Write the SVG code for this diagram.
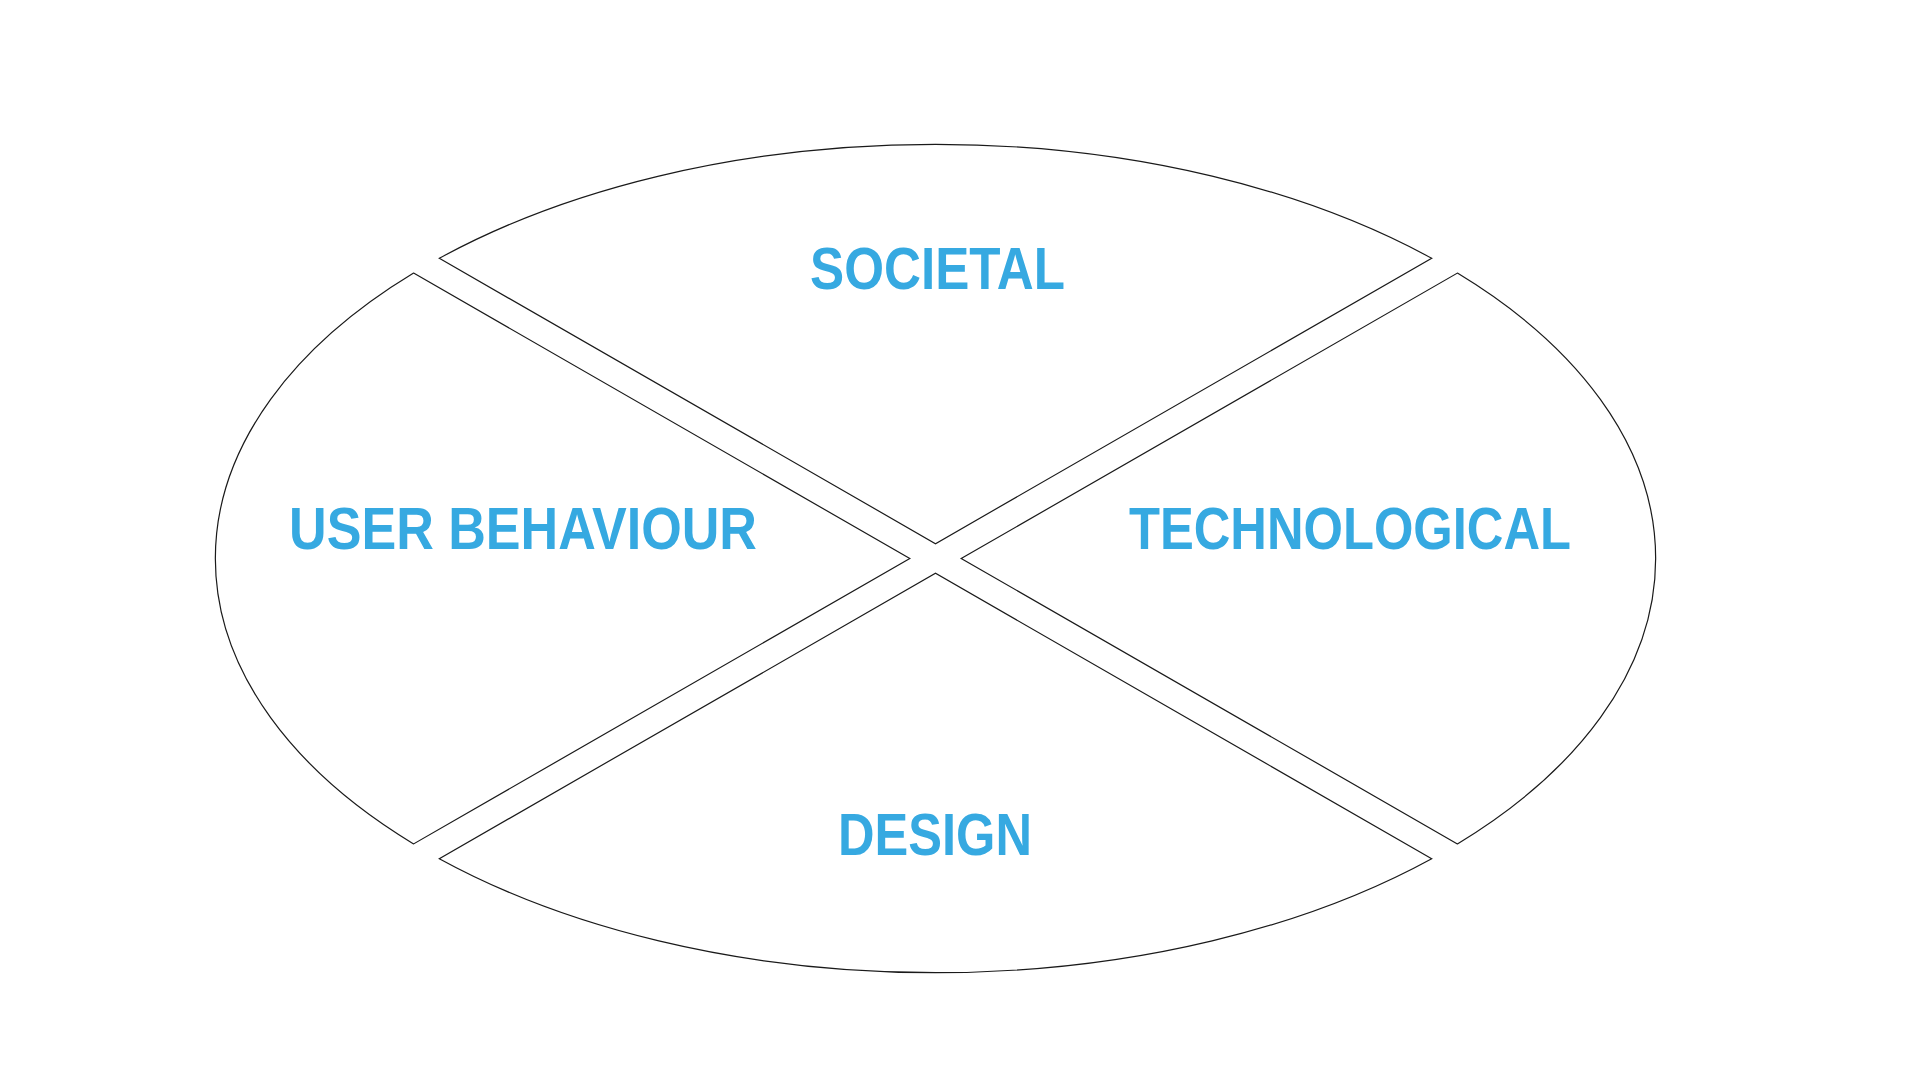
<svg xmlns="http://www.w3.org/2000/svg" width="1920" height="1080" viewBox="0 0 1920 1080">
<style>
.seg{fill:#ffffff;stroke:#1a1a1a;stroke-width:1.2;stroke-linejoin:miter}
.lbl{font-family:"Liberation Sans",Arial,sans-serif;font-weight:bold;font-size:59px;fill:#36a9e1}
</style>
<rect x="0" y="0" width="1920" height="1080" fill="#ffffff"/>
<g id="societal">
<path class="seg" d="M439.3,258.3 L935.5,543.7 L1431.7,258.3 A720.2 414.2 0 0 0 439.3,258.3 Z"/>
<text class="lbl" x="810" y="289" textLength="255" lengthAdjust="spacingAndGlyphs">SOCIETAL</text>
</g>
<g id="technological">
<path class="seg" d="M1457.4,843.9 L961.2,558.5 L1457.4,273.1 A720.2 414.2 0 0 1 1457.4,843.9 Z"/>
<text class="lbl" x="1129" y="549" textLength="442" lengthAdjust="spacingAndGlyphs">TECHNOLOGICAL</text>
</g>
<g id="design">
<path class="seg" d="M1431.7,858.7 L935.5,573.3 L439.3,858.7 A720.2 414.2 0 0 0 1431.7,858.7 Z"/>
<text class="lbl" x="838" y="855" textLength="194" lengthAdjust="spacingAndGlyphs">DESIGN</text>
</g>
<g id="user-behaviour">
<path class="seg" d="M413.6,273.1 L909.8,558.5 L413.6,843.9 A720.2 414.2 0 0 1 413.6,273.1 Z"/>
<text class="lbl" x="289" y="549" textLength="468" lengthAdjust="spacingAndGlyphs">USER BEHAVIOUR</text>
</g>
<g id="connectors"></g>
</svg>
